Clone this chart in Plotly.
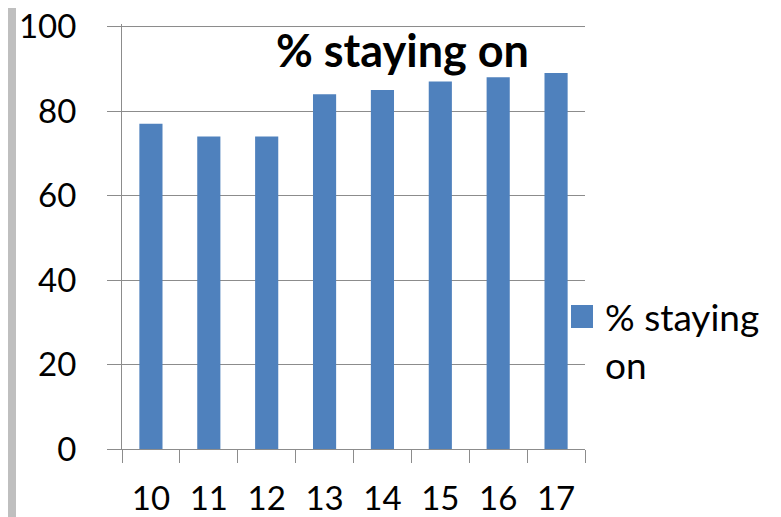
import plotly.graph_objects as go

categories = ["10", "11", "12", "13", "14", "15", "16", "17"]
values = [77, 74, 74, 84, 85, 87, 88, 89]
series_name = "% staying<br>on"
title_text = "% staying on"
y_ticks = [0, 20, 40, 60, 80, 100]

W, H = 781, 517
OFF = 8  # default page body margin
L, R, T, B = 114, 204, 16, 76
pw = W - L - R
ph = H - T - B

FONT = "Lato"
grid = "#8c8c8c"
bar_color = "#4F81BD"


def px_x(px):
    return (px - OFF - L) / pw


def px_y(py):
    return (H - B - (py - OFF)) / ph


fig = go.Figure(go.Bar(
    x=categories, y=values, name=series_name,
    marker=dict(color=bar_color, line=dict(width=0)),
    showlegend=False,
))

fig.update_layout(
    width=W, height=H,
    margin=dict(l=L, r=R, t=T, b=B, pad=0, autoexpand=False),
    paper_bgcolor="white", plot_bgcolor="white",
    bargap=0.6,
    font=dict(family=FONT, size=33, color="black"),
    xaxis=dict(
        type="category", showline=True, linecolor=grid, linewidth=1,
        ticks="outside", tickson="boundaries", ticklen=13, tickcolor=grid,
        tickfont=dict(size=33, family=FONT), showgrid=False,
        range=[-0.5, 7.5], automargin=False, ticklabelstandoff=20,
        ticklabeloverflow="allow",
    ),
    yaxis=dict(
        range=[0, 100.6], tickvals=y_ticks, showgrid=True, gridcolor=grid, gridwidth=1,
        showline=True, linecolor=grid, linewidth=1,
        ticks="outside", ticklen=14, tickcolor=grid,
        tickfont=dict(size=33, family=FONT), zeroline=False,
        automargin=False, ticklabelstandoff=24, ticklabeloverflow="allow",
    ),
    shapes=[
        dict(type="line", xref="paper", yref="y",
             x0=px_x(108), x1=1, y0=y_ticks[-1], y1=y_ticks[-1],
             line=dict(color=grid, width=1), layer="below"),
        dict(type="rect", xref="paper", yref="paper",
             x0=px_x(-2), x1=px_x(16), y0=px_y(H + 20), y1=px_y(-2),
             fillcolor="#bfbfbf", line=dict(width=0), layer="above"),
        dict(type="rect", xref="paper", yref="paper",
             x0=px_x(571), x1=px_x(593), y0=px_y(328), y1=px_y(305),
             fillcolor=bar_color, line=dict(width=0), layer="above"),
    ],
    annotations=[
        dict(text="<b>" + title_text + "</b>", xref="paper", yref="paper",
             x=px_x(402), y=px_y(50), xanchor="center", yanchor="middle",
             showarrow=False, font=dict(size=45, family=FONT, color="black")),
        dict(text=series_name, xref="paper", yref="paper",
             x=px_x(603), y=px_y(292), xanchor="left", yanchor="top", align="left",
             showarrow=False, font=dict(size=37, family=FONT, color="black")),
    ],
)

fig.write_html("out.html")
